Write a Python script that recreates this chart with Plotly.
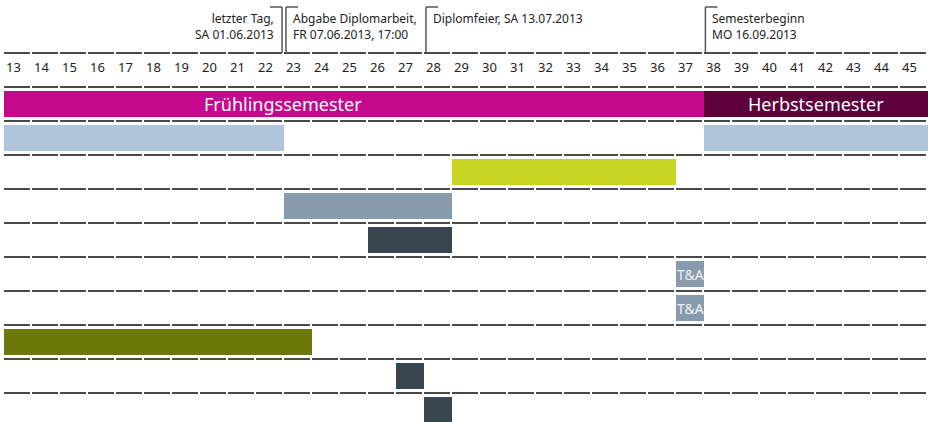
import plotly.graph_objects as go

# ---------------- data ----------------
weeks = list(range(13, 46))
week_labels = [str(w) for w in weeks]

# semester bars (start week inclusive, end week exclusive)
sem_names = ["Frühlingssemester", "Herbstsemester"]
sem_start = [13, 38]
sem_end = [38, 46]
sem_colors = ["#C4098C", "#5E003C"]

# task bars: row index (0 = first row under the semester bar)
task_rows = [0, 0, 1, 2, 3, 4, 5, 6, 7, 8]
task_start = [13, 38, 29, 23, 26, 37, 37, 13, 27, 28]
task_end = [23, 46, 37, 29, 29, 38, 38, 24, 28, 29]
task_colors = ["#AEC5DC", "#AEC5DC", "#C8D424", "#879BAC", "#384650",
               "#879BAC", "#879BAC", "#6C780A", "#384650", "#384650"]
task_labels = ["", "", "", "", "", "T&A", "T&A", "", "", ""]

# milestones
ms_x = [22.93, 23.07, 28.07, 38.05]
ms_text = ["letzter Tag,<br>SA 01.06.2013",
           "Abgabe Diplomarbeit,<br>FR 07.06.2013, 17:00",
           "Diplomfeier, SA 13.07.2013",
           "Semesterbeginn<br>MO 16.09.2013"]
ms_side = ["left", "right", "right", "right"]

# ---------------- layout helpers ----------------
W, H = 928, 422
COLW = 28.0
X0 = 13 - 4 / COLW
X1 = 46
ROWH = 34.0
TOP = 53.0  # pixel of first grid line


def py(p):  # pixel y -> row units
    return (p - TOP) / ROWH


BARW = 26 / ROWH
FONT = "Noto Sans"

fig = go.Figure()

# semester bars (row 1)
for n, s, e, c in zip(sem_names, sem_start, sem_end, sem_colors):
    fig.add_trace(go.Bar(orientation="h", y=[1.5], x=[e - s], base=[s],
                         width=[BARW], marker=dict(color=c, line=dict(width=0)),
                         hoverinfo="skip", showlegend=False))

# task bars
for r, s, e, c in zip(task_rows, task_start, task_end, task_colors):
    fig.add_trace(go.Bar(orientation="h", y=[r + 2.5], x=[e - s], base=[s],
                         width=[BARW], marker=dict(color=c, line=dict(width=0)),
                         hoverinfo="skip", showlegend=False))

shapes = []
# dashed grid lines
for r in range(0, 11):
    shapes.append(dict(type="line", xref="x", yref="y", x0=13, x1=46, y0=r, y1=r,
                       line=dict(color="#4a4a4a", width=2, dash="26px,2px"), layer="above"))

# milestone brackets
for x, side in zip(ms_x, ms_side):
    shapes.append(dict(type="line", xref="x", yref="y", x0=x, x1=x, y0=0, y1=py(7),
                       line=dict(color="#555555", width=1.5)))
    xe = x - 0.43 if side == "left" else x + 0.43
    shapes.append(dict(type="line", xref="x", yref="y", x0=x, x1=xe, y0=py(7), y1=py(7),
                       line=dict(color="#555555", width=1.5)))

annotations = []
# week labels
for w, t in zip(weeks, week_labels):
    annotations.append(dict(x=w, y=py(67), xref="x", yref="y", text=t, showarrow=False,
                            xanchor="left", yanchor="middle", xshift=0,
                            font=dict(family=FONT, size=13, color="#222222")))

# semester labels
sem_label_x = [22.96, (sem_start[1] + sem_end[1]) / 2]
for n, x in zip(sem_names, sem_label_x):
    annotations.append(dict(x=x, y=1.5, xref="x", yref="y", text=n, showarrow=False,
                            xanchor="center", yanchor="middle",
                            font=dict(family=FONT, size=18, color="white")))

# task labels
for r, s, e, t in zip(task_rows, task_start, task_end, task_labels):
    if t:
        annotations.append(dict(x=(s + e) / 2, y=r + 2.5, xref="x", yref="y", text=t,
                                showarrow=False, xanchor="center", yanchor="middle",
                                font=dict(family=FONT, size=14, color="#EEF2F5")))

# milestone texts
for x, t, side in zip(ms_x, ms_text, ms_side):
    if side == "left":
        annotations.append(dict(x=x, y=py(8), xref="x", yref="y", text=t, showarrow=False,
                                xanchor="right", yanchor="top", align="right", xshift=-6,
                                font=dict(family=FONT, size=12, color="#222222")))
    else:
        annotations.append(dict(x=x, y=py(8), xref="x", yref="y", text=t, showarrow=False,
                                xanchor="left", yanchor="top", align="left", xshift=5,
                                font=dict(family=FONT, size=12, color="#222222")))

fig.update_layout(
    width=W, height=H,
    margin=dict(l=0, r=0, t=0, b=0),
    paper_bgcolor="white", plot_bgcolor="white",
    barmode="overlay",
    hovermode=False,
    xaxis=dict(range=[X0, X1], visible=False, fixedrange=True),
    yaxis=dict(range=[py(H), py(0)], visible=False, fixedrange=True),
    shapes=shapes, annotations=annotations,
    showlegend=False,
)

fig.write_html("out.html",
               config={"displayModeBar": False, "staticPlot": True},
               post_script="document.body.style.margin='0';document.body.style.overflow='hidden';")
